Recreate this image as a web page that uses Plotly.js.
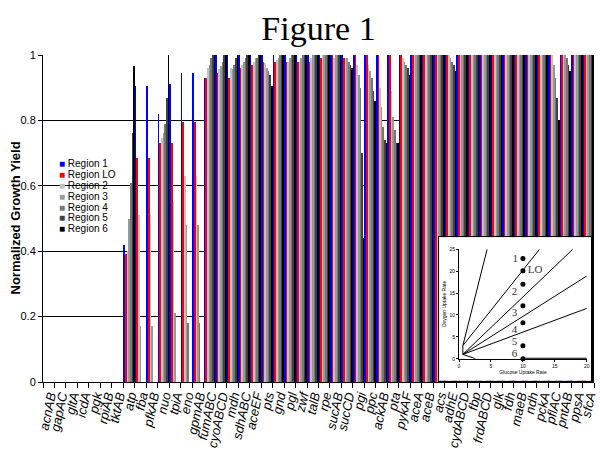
<!DOCTYPE html>
<html>
<head>
<meta charset="utf-8">
<script src="https://cdn.plot.ly/plotly-3.0.1.min.js"></script>
<style>html,body{margin:0;padding:0;background:#fff;}#chart{width:600px;height:450px;}</style>
</head>
<body>
<div id="chart"></div>
<script>
const categories = ['acnAB','gapAC','gltA','icdA','pgk','rpiAB','tktAB','atp','fba','pfkAB','nuo','tpiA','eno','gpmAB','fumABC','cyoABCD','mdh','sdhABC','aceEF','pts','gnd','pgl','zwf','talB','rpe','sucAB','sucCD','pgi','ppc','ackAB','pta','pykAF','aceA','aceB','acs','adhE','cydABCD','fbp','frdABCD','glk','fdh','maeB','ndh','pckA','pflAC','pntAB','ppsA','sfcA'];

const seriesNames = ['Region 1','Region LO','Region 2','Region 3','Region 4','Region 5','Region 6'];

const region1  = [0,0,0,0,0,0,0, .42,.905,.905,.82,.91,.946,.946,.93, 1,1,1,1,1,1,1,1,1,1,1,1,1,1,1,1,1, 1,1,1,1, 1,1,1,1,1,1,1,1, 1,1,1,1];
const regionLO = [0,0,0,0,0,0,0, .39,.685,.685,.73,.73,.796,.796,.93, .946,.93,.96,.97,.978,.978,.978,.978,.98,.99,1,.99,1,1,1,1,1, 1,1,1,1, 1,1,1,1,1,1,1,1, 1,1,1,1];
const region2  = [0,0,0,0,0,0,0, .40,.51,.51,.745,.55,.63,.63,.96, .957,.96,.97,.98,.975,.985,.98,.98,.99,1,.99,.99,.97,.97,.90,.89,.99, 1,1,1,1, 1,1,1,1,1,1,1,1, 1,1,1,1];
const region3  = [0,0,0,0,0,0,0, .50,.17,.17,.76,.21,.48,.48,.97, .965,.957,.98,.99,.96,.99,.99,.99,1,1,1,.99,.94,.95,.84,.81,.98, 1,1,1,.99, 1,1,1,1,1,1,1,1, .97,1,1,1];
const region4  = [0,0,0,0,0,0,0, .61,0,0,.79,0,.18,.18,.99, .98,.97,.99,.99,.95,1,1,1,1,1,1,.98,.90,.93,.78,.77,.97, 1,1,1,.98, 1,1,1,1,1,1,1,1, .93,.99,1,1];
const region5  = [0,0,0,0,0,0,0, .76,0,0,.87,0,0,0,1, 1,.99,1,1,.94,1,1,1,1,1,1,.97,.70,.89,.74,.73,.96, 1,1,1,.97, 1,1,1,1,1,1,1,1, .87,.97,1,1];
const region6  = [0,0,0,0,0,0,0, .965,0,0,1,0,0,0,1, 1,1,1,1,.906,1,1,1,1,1,1,.96,.44,.86,.73,.73,.94, 1,1,1,.95, 1,1,1,1,1,1,1,1, .80,.95,1,1];

const seriesValues = [region1, regionLO, region2, region3, region4, region5, region6];
const seriesColors = ['#0000ff','#ff0000','#c0c4c0','#999999','#777777','#404040','#000000'];

const yTicks = [0, 0.2, 0.4, 0.6, 0.8, 1];
const yTickText = ['0','0.2','0.4','0.6','0.8','1'];
const yTitle = 'Normalized Growth Yield';

// inset phase plane
const insetLinesX = [[0.6,4.4],[0.6,12.6],[0.6,17.8],[0.6,20],[0.6,20],[0.6,2.6],[0.6,0.6],[10,20]];
const insetLinesY = [[3,25],[3,25],[1,25],[1,18.9],[1,11.5],[1,0],[1,3],[0,0]];
const insetLinesW = [1,1,1,1,1,1,1,2];
const insetPointX = [10,10,10,10,10,10,10];
const insetPointY = [22.9,20.1,17.0,12.1,8.2,3.0,0];
const insetLabels = ['1','LO','2','3','4','5','6'];
const insetLabelX = [8.8,11.9,8.7,8.7,8.7,8.7,8.7];
const insetLabelY = [22.8,20.1,15.2,10.4,6.6,3.8,1.0];
const insetXTicks = [0,5,10,15,20];
const insetYTicks = [0,5,10,15,20,25];

const traces = [];
seriesNames.forEach((n, i) => {
  traces.push({
    type: 'bar', name: n, x: categories, y: seriesValues[i],
    marker: {color: seriesColors[i], line: {width: 0}},
    showlegend: false, hoverinfo: 'x+y+name'
  });
});
// white frame subplot (empty)
traces.push({type:'scatter', x:[], y:[], xaxis:'x2', yaxis:'y2', showlegend:false, hoverinfo:'skip'});
insetLinesX.forEach((lx, i) => {
  traces.push({type:'scatter', mode:'lines', x: lx, y: insetLinesY[i], xaxis:'x3', yaxis:'y3',
    line:{color:'#000', width: insetLinesW[i]}, showlegend:false, hoverinfo:'skip', cliponaxis:false});
});
traces.push({type:'scatter', mode:'markers', x: insetPointX, y: insetPointY, xaxis:'x3', yaxis:'y3',
  marker:{color:'#000', size:5}, showlegend:false, cliponaxis:false});
traces.push({type:'scatter', mode:'text', x: insetLabelX, y: insetLabelY, text: insetLabels, xaxis:'x3', yaxis:'y3',
  textposition:'middle center', textfont:{family:'Liberation Serif, Times New Roman, serif', size:11, color:'#333'},
  showlegend:false, hoverinfo:'skip', cliponaxis:false});

const legendAnn = seriesNames.map((n, i) => ({
  xref:'paper', yref:'paper', x:0.026, y:0.69, xanchor:'left', yanchor:'top', yshift: -i*10.8,
  showarrow:false, align:'left',
  text: '<span style="color:' + seriesColors[i] + '">■</span> ' + n,
  font:{family:'Arial, Liberation Sans, sans-serif', size:10, color:'#000'}
}));
legendAnn.push({
  xref:'paper', yref:'paper', x:-0.0508, y:0.5, xanchor:'center', yanchor:'middle', textangle:-90,
  showarrow:false, text:'<b>' + yTitle + '</b>',
  font:{family:'Arial, Liberation Sans, sans-serif', size:13, color:'#000'}
});

const layout = {
  width: 600, height: 450,
  margin: {l: 43, r: 6, t: 55, b: 68},
  paper_bgcolor: '#fff', plot_bgcolor: '#fff',
  font: {family: 'Arial, Liberation Sans, sans-serif', color: '#000'},
  title: {text: 'Figure 1', font: {family: 'Liberation Serif, Times New Roman, serif', size: 34, color: '#000'},
          x: 0.5, xref: 'paper', xanchor: 'center', y: 0.938, yanchor: 'middle'},
  barmode: 'group', bargap: 0, bargroupgap: 0,
  xaxis: {
    type: 'category', categoryorder: 'array', categoryarray: categories,
    tickmode: 'array', tickvals: categories, ticktext: categories,
    tickangle: -78, tickfont: {size: 13, style: 'italic', family: 'Arial, Liberation Sans, sans-serif'},
    ticks: 'outside', ticklen: 5, tickcolor: '#000', tickson: 'boundaries',
    showline: true, linecolor: '#000', linewidth: 1, showgrid: false, zeroline: false,
    ticklabelshift: 1
  },
  yaxis: {
    range: [0, 1], tickvals: yTicks, ticktext: yTickText, tickfont: {size: 11},
    ticks: 'outside', ticklen: 4, tickcolor: '#000',
    showline: true, linecolor: '#000', showgrid: true, gridcolor: '#000', gridwidth: 1, zeroline: false
  },
  xaxis2: {domain: [0.719, 0.995], anchor: 'y2', range: [0, 1], showline: true, mirror: true, linecolor: '#000',
           showticklabels: false, showgrid: false, zeroline: false, ticks: '', fixedrange: true},
  yaxis2: {domain: [0.004, 0.443], anchor: 'x2', range: [0, 1], showline: true, mirror: true, linecolor: '#000',
           showticklabels: false, showgrid: false, zeroline: false, ticks: '', fixedrange: true},
  xaxis3: {domain: [0.755, 0.987], anchor: 'y3', range: [0, 20], tickvals: insetXTicks, tickfont: {size: 5},
           ticks: 'outside', ticklen: 2, tickcolor: '#000', showline: true, linecolor: '#000',
           showgrid: false, zeroline: false, fixedrange: true,
           title: {text: 'Glucose Uptake Rate', font: {size: 5}, standoff: 2}},
  yaxis3: {domain: [0.071, 0.406], anchor: 'x3', range: [0, 25], tickvals: insetYTicks, tickfont: {size: 5},
           ticks: 'outside', ticklen: 2, tickcolor: '#000', showline: true, linecolor: '#000',
           showgrid: false, zeroline: false, fixedrange: true,
           title: {text: 'Oxygen Uptake Rate', font: {size: 5}, standoff: 2}},
  annotations: legendAnn
};

Plotly.newPlot('chart', traces, layout, {displayModeBar: false, staticPlot: true});
</script>
</body>
</html>
